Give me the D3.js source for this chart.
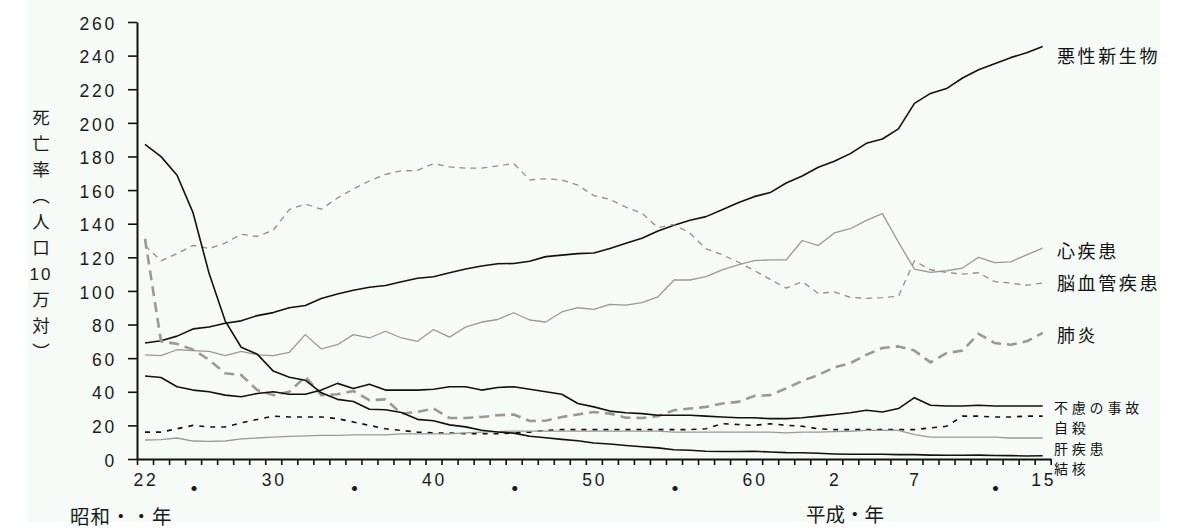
<!DOCTYPE html>
<html lang="ja">
<head>
<meta charset="utf-8">
<title>主要死因別にみた死亡率の年次推移</title>
<script src="https://cdn.jsdelivr.net/npm/d3@7/dist/d3.min.js"></script>
<style>
  html, body { margin: 0; padding: 0; background: #fff; }
  svg { display: block; }
</style>
</head>
<body>
<script>
// years: 昭和22 (1947) .. 平成15 (2003)
const years = [
  1947, 1948, 1949, 1950, 1951, 1952, 1953, 1954, 1955, 1956,
  1957, 1958, 1959, 1960, 1961, 1962, 1963, 1964, 1965, 1966,
  1967, 1968, 1969, 1970, 1971, 1972, 1973, 1974, 1975, 1976,
  1977, 1978, 1979, 1980, 1981, 1982, 1983, 1984, 1985, 1986,
  1987, 1988, 1989, 1990, 1991, 1992, 1993, 1994, 1995, 1996,
  1997, 1998, 1999, 2000, 2001, 2002, 2003
];

// death rate per 100,000 population
const cancer = [
  69.0, 70.4, 73.1, 77.4, 78.5, 80.8, 82.2, 85.3, 87.1, 90.0,
  91.3, 95.5, 98.2, 100.4, 102.2, 103.2, 105.5, 107.5, 108.4, 110.8,
  113.0, 114.8, 116.2, 116.3, 117.7, 120.4, 121.3, 122.2, 122.6, 125.3,
  128.4, 131.3, 135.7, 139.1, 142.0, 144.2, 148.3, 152.5, 156.1, 158.5,
  164.2, 168.4, 173.6, 177.2, 181.7, 187.8, 190.4, 196.4, 211.6, 217.5,
  220.4, 226.7, 231.6, 235.2, 238.8, 241.7, 245.4
];
const heart = [
  62, 61.5, 65, 64.5, 64, 61.5, 64, 62, 61.5, 63.5,
  74, 65.5, 68, 74, 72, 76, 72, 70, 77, 72.5,
  78.5, 81.5, 83, 87, 82.7, 81.5, 87.5, 90, 89, 92,
  91.6, 93, 96.5, 106.5, 106.5, 108.5, 112.5, 115.5, 118, 118.5,
  118.5, 130, 127, 134.5, 137, 142, 146, 129, 113, 111,
  112, 113.6, 120, 116.8, 117.3, 121.5, 125.5
];
const cerebro = [
  127, 117.9, 122.2, 127.1, 125.2, 128.5, 133.7, 132.4, 136.1, 148.4,
  151.7, 148.6, 155.3, 160.7, 165.4, 169.4, 171.4, 171.7, 175.8, 173.8,
  173.1, 173.1, 174.4, 175.8, 166.1, 166.7, 166.0, 163.0, 156.7, 154.5,
  149.8, 146.2, 137.7, 139.5, 134.3, 125.0, 121.6, 117.2, 112.2, 106.9,
  101.7, 105.5, 98.5, 99.4, 96.2, 95.6, 96.0, 96.9, 117.9, 112.6,
  111.0, 110.0, 110.8, 105.5, 104.7, 103.4, 104.7
];
const pneumonia = [
  131, 70, 68.5, 65, 59, 51, 50, 41, 38, 40,
  49, 38, 38.5, 40.5, 35, 35.5, 27, 28, 30, 24.4,
  24.4, 25, 26, 26.5, 22.6, 22.8, 25, 26.5, 28, 27,
  24.6, 24.4, 25.5, 29, 30, 31, 33, 34, 37.5, 38,
  42, 46.5, 50, 54.5, 57, 62, 66, 67, 64.5, 57.5,
  63, 64.5, 74.5, 69, 68, 70, 75
];
const accident = [
  49.4, 48.5, 43, 41, 40, 38, 37, 39, 40, 38.5,
  38.5, 41, 45, 42, 44.5, 41, 41, 41, 41.5, 43,
  43, 41, 42.5, 43, 41.5, 40, 38.5, 33, 31, 28.5,
  27.5, 27, 26, 26, 26, 25.5, 25, 24.5, 24.5, 24,
  24, 24.5, 25.5, 26.5, 27.5, 29, 28, 30, 36.5, 32,
  31.5, 31.5, 32, 31.5, 31.5, 31.5, 31.5
];
const suicide = [
  16, 16, 18, 20, 19, 19, 21.5, 23.5, 25.5, 25,
  25, 25, 24, 22, 20, 18, 17, 16, 15.5, 15.5,
  15, 15, 15, 15.5, 16, 17, 17.5, 17.5, 17.5, 17.5,
  17.5, 17.5, 17.5, 17.5, 17.5, 18, 21, 20.5, 20, 21,
  20, 19.5, 18, 17.5, 17.5, 17.5, 17.5, 17.5, 17.5, 18.5,
  19.5, 25.5, 25.5, 25, 25, 25.5, 25.5
];
const liver = [
  11.3, 11.5, 12.5, 10.7, 10.5, 10.7, 12, 12.5, 13, 13.5,
  13.7, 14, 14, 14.3, 14.3, 14.3, 15, 15, 15, 15,
  15.5, 16, 16.3, 16.6, 16.6, 16.6, 16.6, 16.6, 16.6, 16.6,
  16.6, 16.6, 16.6, 16, 16, 16, 16, 16, 16, 16,
  15.5, 16, 16, 16.3, 16.5, 17, 17, 17, 14.5, 13,
  13, 13, 13, 13, 12.5, 12.5, 12.5
];
const tuberculosis = [
  187.2, 179.9, 168.8, 146.4, 110.3, 82.2, 66.5, 62.4, 52.3, 48.6,
  46.9, 39.4, 35.5, 34.2, 29.6, 29.3, 27.7, 23.6, 22.8, 20.3,
  19.1, 17.1, 16.1, 15.4, 13.5, 12.6, 11.7, 10.9, 9.5, 8.9,
  8.0, 7.3, 6.6, 5.5, 5.2, 4.6, 4.5, 4.5, 4.6, 4.2,
  3.8, 3.7, 3.4, 3.0, 2.8, 2.8, 2.8, 2.6, 2.6, 2.3,
  2.2, 2.2, 2.3, 2.1, 2.0, 1.8, 1.9
];

const yTicks = [0, 20, 40, 60, 80, 100, 120, 140, 160, 180, 200, 220, 240, 260];
const xLabelYears = [1947, 1950, 1955, 1960, 1965, 1970, 1975, 1980, 1985, 1990, 1995, 2000, 2003];
const xLabels = ["22", "・", "30", "・", "40", "・", "50", "・", "60", "2", "7", "・", "15"];
const yTitleChars = ["死", "亡", "率", "︵", "人", "口", "10", "万", "対", "︶"];

(() => {
  document.addEventListener("DOMContentLoaded", () => {
    const width = 1180;
    const height = 531;

    const svg = d3
      .select("body")
      .append("svg")
      .attr("width", width)
      .attr("height", height);

    // pale tinted panel like the source image
    svg.append("rect")
      .attr("x", 28).attr("y", 0)
      .attr("width", 1132).attr("height", 522)
      .attr("fill", "#f6fbf8");

    const x = d3.scaleLinear().domain([1946.5, 2003.5]).range([137, 1050.7]);
    const y = d3.scaleLinear().domain([0, 260]).range([459, 22]);

    const numFont = "'Liberation Sans', Arial, sans-serif";
    const jpFont = "'Noto Sans CJK JP', 'Noto Sans', sans-serif";

    // series look + label placement
    const series = [
      { name: "悪性新生物", values: cancer, color: "#111", w: 1.6, dash: null, ly: 57, size: 18 },
      { name: "心疾患", values: heart, color: "#999", w: 1.3, dash: null, ly: 252, size: 18 },
      { name: "脳血管疾患", values: cerebro, color: "#8f8f8f", w: 1.3, dash: "6,5", ly: 284, size: 18 },
      { name: "肺炎", values: pneumonia, color: "#999", w: 2.6, dash: "10,6", ly: 336, size: 18 },
      { name: "不慮の事故", values: accident, color: "#111", w: 1.6, dash: null, ly: 408, size: 14 },
      { name: "自殺", values: suicide, color: "#111", w: 1.6, dash: "5,6", ly: 428, size: 14 },
      { name: "肝疾患", values: liver, color: "#999", w: 1.3, dash: null, ly: 449, size: 14 },
      { name: "結核", values: tuberculosis, color: "#111", w: 1.6, dash: null, ly: 469, size: 14 }
    ];

    // Y axis
    const yAxis = d3.axisLeft(y).tickValues(yTicks).tickSize(9).tickSizeOuter(0).tickPadding(11);
    const gy = svg.append("g").attr("transform", "translate(137,0)").call(yAxis);
    gy.select(".domain").attr("stroke", "#111").attr("stroke-width", 2);
    gy.selectAll(".tick line").attr("stroke", "#111").attr("stroke-width", 1.6);
    gy.selectAll(".tick text")
      .attr("fill", "#1a1a1a")
      .attr("dy", "0.41em")
      .style("font-family", numFont)
      .style("font-size", "17.5px")
      .style("letter-spacing", "2.8px");

    // X axis: one tick per year boundary, labels drawn separately
    const xAxis = d3.axisBottom(x)
      .tickValues(d3.range(1946.5, 2004, 1))
      .tickSize(6)
      .tickSizeOuter(0)
      .tickFormat("");
    const gx = svg.append("g").attr("transform", "translate(0,459)").call(xAxis);
    gx.select(".domain").attr("stroke", "#111").attr("stroke-width", 2);
    gx.selectAll(".tick line").attr("stroke", "#111").attr("stroke-width", 1.6);

    svg.append("g")
      .selectAll("text")
      .data(xLabels)
      .enter()
      .append("text")
      .attr("x", (d, i) => x(xLabelYears[i]) + 1)
      .attr("y", (d) => (d === "・" ? 496 : 486))
      .attr("text-anchor", "middle")
      .attr("fill", "#1a1a1a")
      .style("font-family", (d) => (d === "・" ? jpFont : numFont))
      .style("font-size", (d) => (d === "・" ? "20px" : "17.5px"))
      .style("font-weight", (d) => (d === "・" ? "bold" : "normal"))
      .style("letter-spacing", (d) => (d === "・" ? "0px" : "2.8px"))
      .text((d) => d);

    // era captions
    svg.append("text")
      .attr("x", 70).attr("y", 524)
      .attr("fill", "#1a1a1a")
      .style("font-family", jpFont)
      .style("font-size", "19.5px")
      .style("letter-spacing", "1px")
      .text("昭和・・年");
    svg.append("text")
      .attr("x", 806).attr("y", 522)
      .attr("fill", "#1a1a1a")
      .style("font-family", jpFont)
      .style("font-size", "19.5px")
      .style("letter-spacing", "0px")
      .text("平成・年");

    // vertical Y title, one glyph per cell
    svg.append("g")
      .selectAll("text")
      .data(yTitleChars)
      .enter()
      .append("text")
      .attr("x", 41)
      .attr("y", (d, i) => 118 + i * 26)
      .attr("dy", "0.35em")
      .attr("text-anchor", "middle")
      .attr("fill", "#1a1a1a")
      .style("font-family", (d) => (d === "10" ? numFont : jpFont))
      .style("font-size", (d) => (d === "10" ? "17px" : "17.5px"))
      .style("letter-spacing", (d) => (d === "10" ? "2px" : "0px"))
      .text((d) => d);

    // lines
    const line = d3.line()
      .x((d, i) => x(years[i]))
      .y((d) => y(d));

    svg.append("g")
      .selectAll("path")
      .data(series)
      .enter()
      .append("path")
      .attr("d", (s) => line(s.values))
      .attr("fill", "none")
      .attr("stroke", (s) => s.color)
      .attr("stroke-width", (s) => s.w)
      .attr("stroke-dasharray", (s) => s.dash)
      .attr("stroke-linejoin", "round");

    // right-hand labels
    svg.append("g")
      .selectAll("text")
      .data(series)
      .enter()
      .append("text")
      .attr("x", (s) => (s.size > 15 ? 1057 : 1054))
      .attr("y", (s) => s.ly)
      .attr("dy", "0.35em")
      .attr("fill", "#111")
      .style("font-family", jpFont)
      .style("font-size", (s) => s.size + "px")
      .style("letter-spacing", (s) => (s.size > 15 ? "2.6px" : "3.8px"))
      .text((s) => s.name);
  });
})();
</script>
</body>
</html>
